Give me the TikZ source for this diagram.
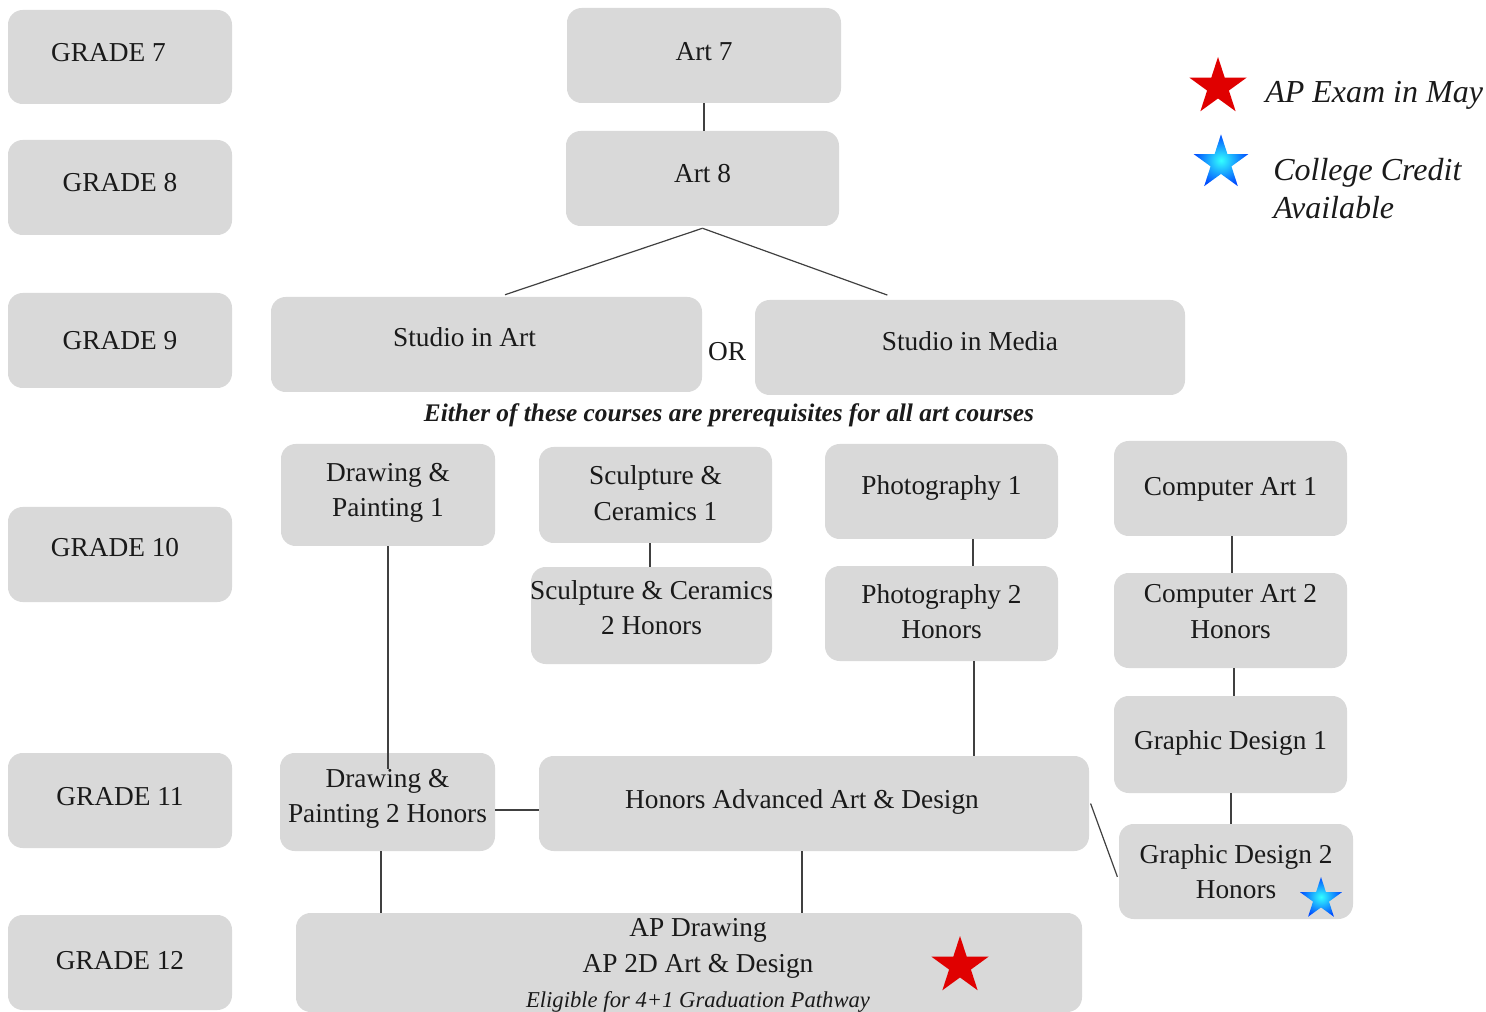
\documentclass[tikz,border=0pt]{standalone}
\usepackage{fontspec}
\setmainfont{Liberation Serif}
\usetikzlibrary{shapes.geometric}
\definecolor{boxgray}{HTML}{D9D9D9}
\definecolor{linegray}{HTML}{404040}
\definecolor{txt}{HTML}{1A1A1A}
\definecolor{starred}{HTML}{E00000}
% name, x1, y1, x2, y2, text dx, text dy, text
\newcommand\bx[8]{%
  \node[box, minimum width={(#4-#2)*0.75pt}, minimum height={(#5-#3)*0.75pt}]
    (#1) at ({(#2+#4)/2},{(#3+#5)/2}) {};
  \node[boxtext] (#1t) at ({(#2+#4)/2+#6},{(#3+#5)/2+#7}) {#8};}
\begin{document}
\begin{tikzpicture}[x=0.75pt,y=-0.75pt,
  box/.style={fill=boxgray, rounded corners=11pt, inner sep=0pt},
  boxtext/.style={inner sep=0pt, align=center, text=txt, font=\fontsize{20.5}{26.5}\selectfont},
  conn/.style={draw=linegray, line width=0.9pt},
  legend/.style={font=\fontsize{24}{28.5}\selectfont\itshape, text=txt, inner sep=0pt, align=left},
  redstar/.style={star, star points=5, star point ratio=2.618, fill=starred, inner sep=0pt},
  bluestar/.style={star, star points=5, star point ratio=2.618, inner color=cyan!80!white, outer color=blue!70!cyan, inner sep=0pt}]
\useasboundingbox (0,0) rectangle (1486,1012);
% grade column
\bx{g7}{8}{10}{232}{104}{-11.5}{-4}{GRADE 7}
\bx{g8}{8}{140}{232}{235}{0}{-5}{GRADE 8}
\bx{g9}{8}{293}{232}{388}{0}{0}{GRADE 9}
\bx{g10}{8}{507}{232}{602}{-5}{-7}{GRADE 10}
\bx{g11}{8}{753}{232}{848}{0}{-4}{GRADE 11}
\bx{g12}{8}{915}{232}{1010}{0}{-1.5}{GRADE 12}
% courses
\bx{art7}{567}{8}{841}{103}{0}{-3.5}{Art 7}
\bx{art8}{566}{131}{839}{226}{0}{-4.5}{Art 8}
\bx{sia}{271}{297}{702}{392}{-22}{-7}{Studio in Art}
\bx{sim}{755}{300}{1185}{395}{0}{-6.5}{Studio in Media}
\node[font=\fontsize{20.5}{24}\selectfont, text=txt, inner sep=0pt] (or) at (727,352) {OR};
\node[font=\fontsize{19}{23}\selectfont\bfseries\itshape, text=txt, inner sep=0pt] (either) at (729,415)
  {Either of these courses are prerequisites for all art courses};
\bx{dp1}{281}{444}{495}{546}{0}{-2}{Drawing \&\\Painting 1}
\bx{sc1}{539}{447}{772}{543}{0}{-2}{Sculpture \&\\Ceramics 1}
\bx{ph1}{825}{444}{1058}{539}{0}{-4}{Photography 1}
\bx{ca1}{1114}{441}{1347}{536}{0}{1}{Computer Art 1}
\bx{sc2}{531}{567}{772}{664}{0}{-8}{Sculpture \& Ceramics\\2 Honors}
\bx{ph2}{825}{566}{1058}{661}{0}{-2}{Photography 2\\Honors}
\bx{ca2}{1114}{573}{1347}{668}{0}{-9}{Computer Art 2\\Honors}
\bx{gd1}{1114}{696}{1347}{793}{0}{-2}{Graphic Design 1}
\bx{gd2}{1119}{824}{1353}{919}{0}{0}{Graphic Design 2\\Honors}
\bx{dp2}{280}{753}{495}{851}{0}{-3}{Drawing \&\\Painting 2 Honors}
\bx{haad}{539}{756}{1089}{851}{-12}{-2}{Honors Advanced Art \& Design}
\bx{ap}{296}{913}{1082}{1012}{9}{3}{AP Drawing\\AP 2D Art \& Design\\{\fontsize{17}{22}\selectfont\itshape Eligible for 4+1 Graduation Pathway}}
% connectors
\draw[conn] (art7.south) -- (art7.south |- art8.north);
\draw[conn] ([yshift=-1.5pt]art8.south) -- ([xshift=13.9pt,yshift=1.5pt]sia.north);
\draw[conn] ([yshift=-1.5pt]art8.south) -- ([xshift=-62pt,yshift=3.5pt]sim.north);
\draw[conn] (dp1.south) -- ([yshift=-12pt]dp1.south |- dp2.north);
\draw[conn] ([yshift=-6pt]dp2.east) -- ([yshift=-6pt]dp2.east -| haad.west);
\draw[conn] ([xshift=-4.9pt]dp2.south) -- ([xshift=-4.9pt]dp2.south |- ap.north);
\draw[conn] ([xshift=-9pt]haad.south) -- ([xshift=-9pt]haad.south |- ap.north);
\draw[conn] ([xshift=23.6pt]ph1.south) -- ([xshift=23.6pt]ph1.south |- ph2.north);
\draw[conn] ([xshift=24.4pt]ph2.south) -- ([xshift=24.4pt]ph2.south |- haad.north);
\draw[conn] ([xshift=-4.1pt]sc1.south) -- ([xshift=-4.1pt]sc1.south |- sc2.north);
\draw[conn] ([xshift=1.1pt]ca1.south) -- ([xshift=1.1pt]ca1.south |- ca2.north);
\draw[conn] ([xshift=2.6pt]ca2.south) -- ([xshift=2.6pt]ca2.south |- gd1.north);
\draw[conn] ([xshift=0.4pt]gd1.south) -- ([xshift=0.4pt]gd1.south |- gd2.north);
\draw[conn] ([xshift=1pt]haad.east) -- ([xshift=-1pt,yshift=-4pt]gd2.west);
% stars
\node[redstar, minimum size=45pt] (apstar) at (960,966) {};
\node[bluestar, minimum size=33pt] (gdstar) at (1321,899) {};
\node[redstar, minimum size=45pt] (legred) at (1218,87) {};
\node[bluestar, minimum size=43pt] (legblue) at (1221,163) {};
\node[legend, anchor=west] (legap) at (1265,95) {AP Exam in May};
\node[legend, anchor=west] (legcc) at (1273,189) {College Credit\\Available};
\end{tikzpicture}
\end{document}
